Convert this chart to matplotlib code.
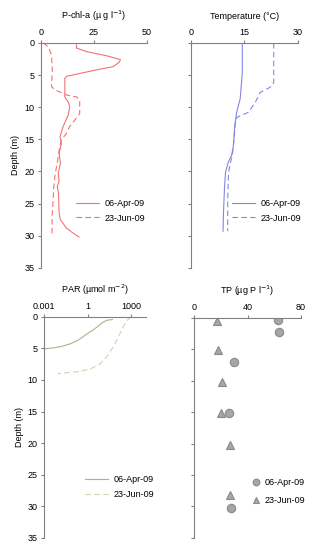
# Depth profiles: P-chl-a, temperature, PAR and TP for two sampling dates.

import matplotlib
matplotlib.use("Agg")
import matplotlib.pyplot as plt

plt.rcParams["font.family"] = ["Liberation Sans", "DejaVu Sans"]
plt.rcParams["font.size"] = 6.5

# P-chl-a (ug/l)
chl_apr_depth = [0.3, 0.8, 1.35, 2.0, 2.6, 3.0, 3.7, 4.2, 5.2, 5.5, 6.8, 8.4, 9.2, 9.9,
                 11.2, 13.0, 14.6, 15.6, 17.2, 18.7, 20.3, 21.6, 22.3, 23.4, 26.5,
                 27.5, 28.8, 29.6, 30.2]
chl_apr = [16.8, 16.8, 21.5, 31.0, 37.5, 37.0, 34.0, 26.2, 12.1, 11.3, 11.3, 11.3, 12.9,
           13.6, 12.9, 10.5, 9.0, 9.7, 8.6, 9.2, 8.2, 8.6, 7.7, 8.3, 8.6, 9.2, 12.0,
           15.2, 18.0]
chl_jun_depth = [0.0, 0.6, 1.9, 4.1, 6.8, 7.3, 8.1, 8.4, 8.9, 9.9, 11.0, 12.0, 13.0,
                 14.1, 15.1, 16.1, 17.7, 19.2, 20.8, 22.3, 24.4, 27.0, 30.1]
chl_jun = [1.1, 3.5, 5.0, 5.4, 5.0, 6.6, 12.0, 16.8, 18.3, 18.3, 18.3, 16.0, 13.6,
           12.0, 9.7, 8.9, 8.2, 7.4, 6.6, 6.1, 5.8, 5.3, 5.3]

# Temperature (degC)
temp_apr_depth = [0.0, 4.6, 8.7, 10.8, 13.4, 16.0, 17.5, 18.5, 20.1, 22.6, 26.8, 29.3]
temp_apr = [14.4, 14.4, 13.8, 12.8, 12.2, 11.9, 11.4, 10.5, 9.7, 9.4, 9.1, 9.0]
temp_jun_depth = [0.0, 6.2, 6.9, 7.7, 9.3, 10.8, 11.6, 12.4, 14.4, 17.5, 19.0, 20.6,
                  24.7, 29.3]
temp_jun = [23.2, 23.2, 22.2, 19.4, 18.0, 16.1, 12.8, 12.4, 12.2, 11.6, 10.9, 10.5,
            10.3, 10.3]

# PAR (umol m-2)
par_apr_depth = [0.43, 0.55, 1.0, 1.6, 2.1, 2.7, 3.2, 3.7, 4.3, 4.7, 4.9, 5.05]
par_apr = [49, 20, 9, 4.5, 2.3, 0.9, 0.45, 0.22, 0.06, 0.015, 0.005, 0.0012]
par_jun_depth = [0.0, 0.7, 2.7, 4.8, 6.4, 7.5, 8.3, 8.7, 9.0]
par_jun = [950, 430, 157, 55, 19, 6.6, 1.4, 0.17, 0.009]

# TP (ug P/l)
tp_apr_depth = [0.4, 2.3, 7.0, 15.1, 30.2]
tp_apr = [62.7, 63.7, 29.8, 26.0, 27.6]
tp_jun_depth = [0.5, 5.1, 10.2, 15.2, 20.2, 28.2]
tp_jun = [16.8, 18.0, 21.0, 19.8, 27.0, 27.0]

dates = ["06-Apr-09", "23-Jun-09"]
depth_ticks = [0, 5, 10, 15, 20, 25, 30, 35]

AXIS_COLOR = "#808080"


def style_axis(ax, xlabel, show_depth):
    for side in ("right", "bottom"):
        ax.spines[side].set_visible(False)
    for side in ("left", "top"):
        ax.spines[side].set_color(AXIS_COLOR)
        ax.spines[side].set_linewidth(0.8)
    ax.xaxis.tick_top()
    ax.xaxis.set_label_position("top")
    ax.set_xlabel(xlabel, fontsize=6.5, labelpad=6)
    ax.set_ylim(35, 0)
    ax.set_yticks(depth_ticks)
    ax.tick_params(axis="both", direction="out", length=2.5, width=0.8,
                   color=AXIS_COLOR, labelsize=6.5, pad=2)
    if show_depth:
        ax.set_ylabel("Depth (m)", fontsize=6.5, labelpad=3)
    else:
        ax.set_yticklabels([])


def add_legend(ax, handles, x, y):
    ax.legend(handles=handles, labels=dates, loc="upper left", bbox_to_anchor=(x, y),
              frameon=False, fontsize=6.5, borderpad=0, borderaxespad=0,
              handlelength=2.6, handletextpad=0.6, labelspacing=0.65)


fig = plt.figure(figsize=(3.12, 5.5), dpi=100)

ax1 = fig.add_axes([0.131, 0.513, 0.340, 0.409])
ax2 = fig.add_axes([0.612, 0.513, 0.343, 0.409])
ax3 = fig.add_axes([0.141, 0.022, 0.327, 0.402])
ax4 = fig.add_axes([0.622, 0.022, 0.343, 0.400])

dash = (0, (5, 3))

# P-chl-a
red = "#f07373"
h1 = ax1.plot(chl_apr, chl_apr_depth, color=red, lw=0.8)[0]
h2 = ax1.plot(chl_jun, chl_jun_depth, color=red, lw=0.8, ls=dash)[0]
ax1.set_xlim(0, 50)
ax1.set_xticks([0, 25, 50])
style_axis(ax1, "P-chl-a (\u00b5 g l$^{-1}$)", True)
add_legend(ax1, [h1, h2], 0.33, 0.307)

# Temperature
blue = "#8585e6"
h1 = ax2.plot(temp_apr, temp_apr_depth, color=blue, lw=0.8)[0]
h2 = ax2.plot(temp_jun, temp_jun_depth, color=blue, lw=0.8, ls=dash)[0]
ax2.set_xlim(0, 30)
ax2.set_xticks([0, 15, 30])
style_axis(ax2, "Temperature (\u00b0C)", False)
add_legend(ax2, [h1, h2], 0.38, 0.307)

# PAR
h1 = ax3.plot(par_apr, par_apr_depth, color="#b5ad88", lw=0.8)[0]
h2 = ax3.plot(par_jun, par_jun_depth, color="#d9d1ad", lw=0.8, ls=dash)[0]
ax3.set_xscale("log")
ax3.set_xlim(1e-3, 1e4)
ax3.set_xticks([1e-3, 1, 1e3])
ax3.set_xticklabels(["0.001", "1", "1000"])
ax3.minorticks_off()
style_axis(ax3, "PAR (\u00b5mol m$^{-2}$)", True)
add_legend(ax3, [h1, h2], 0.40, 0.285)

# TP
h1 = ax4.plot(tp_apr, tp_apr_depth, ls="none", marker="o", ms=6,
              mfc="#a6a6a6", mec="#8a8a8a", mew=0.8)[0]
h2 = ax4.plot(tp_jun, tp_jun_depth, ls="none", marker="^", ms=6,
              mfc="#a6a6a6", mec="#8a8a8a", mew=0.8)[0]
ax4.set_xlim(0, 80)
ax4.set_xticks([0, 40, 80])
style_axis(ax4, "TP (\u00b5g P l$^{-1}$)", False)
ax4.legend(handles=[h1, h2], labels=dates, loc="upper left", bbox_to_anchor=(0.53, 0.272),
           frameon=False, fontsize=6.5, borderpad=0, borderaxespad=0,
           handlelength=1.2, handletextpad=0.3, labelspacing=1.0, markerscale=0.8)

fig.savefig("out.png", dpi=100)
